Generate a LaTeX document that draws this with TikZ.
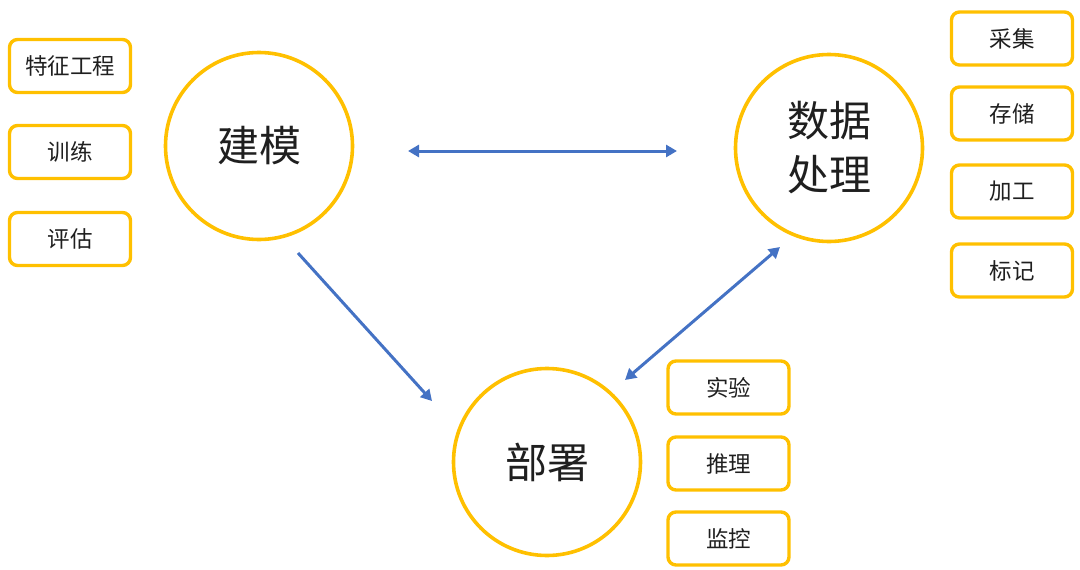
\documentclass[tikz,border=0pt]{standalone}
\usepackage{fontspec}
\setmainfont{Noto Sans CJK SC}
\usetikzlibrary{arrows.meta,calc}
\definecolor{ygold}{HTML}{FFC000}
\definecolor{lblue}{HTML}{4472C4}
\tikzset{
  bigcirc/.style={circle,draw=ygold,line width=3.6pt,fill=white,minimum size=187pt,inner sep=0pt,font=\fontsize{42}{54}\selectfont,align=center,text=black!88},
  tagbox/.style={rectangle,rounded corners=8pt,draw=ygold,line width=3.4pt,minimum width=121pt,minimum height=53pt,inner sep=0pt,font=\fontsize{22.5}{26}\selectfont,text=black!88},
  conn/.style={draw=lblue,line width=3pt},
  tipb/.style={-{Triangle[length=11pt,width=12pt]}},
  tipbb/.style={{Triangle[length=11pt,width=12pt]}-{Triangle[length=11pt,width=12pt]}}
}
\begin{document}
\begin{tikzpicture}[x=1pt,y=-1pt]
\useasboundingbox (0,0) rectangle (1080,570);
\node[bigcirc] (jm) at (259,146) {建模};
\node[bigcirc] (sj) at (829,148) {数据\\处理};
\node[bigcirc] (bs) at (547,462) {部署};

\node[tagbox] (tz) at (70,66) {特征工程};
\node[tagbox] (xl) at (70,152) {训练};
\node[tagbox] (pg) at (70,239) {评估};

\node[tagbox] (cj) at (1012,38.5) {采集};
\node[tagbox] (cc) at (1012,113.5) {存储};
\node[tagbox] (jg) at (1012,191.5) {加工};
\node[tagbox] (bj) at (1012,270.5) {标记};

\node[tagbox] (sy) at (728.5,387.5) {实验};
\node[tagbox] (tl) at (728.5,463.5) {推理};
\node[tagbox] (jk) at (728.5,538.5) {监控};

\draw[conn,tipbb] ($(jm)+(149,5)$) -- ($(sj)+(-152,3)$);
\draw[conn,tipb] ($(jm)+(39,107)$) -- ($(bs)+(-115,-61)$);
\draw[conn,tipbb] ($(bs)+(78,-82)$) -- ($(sj)+(-49,99)$);
\end{tikzpicture}
\end{document}
